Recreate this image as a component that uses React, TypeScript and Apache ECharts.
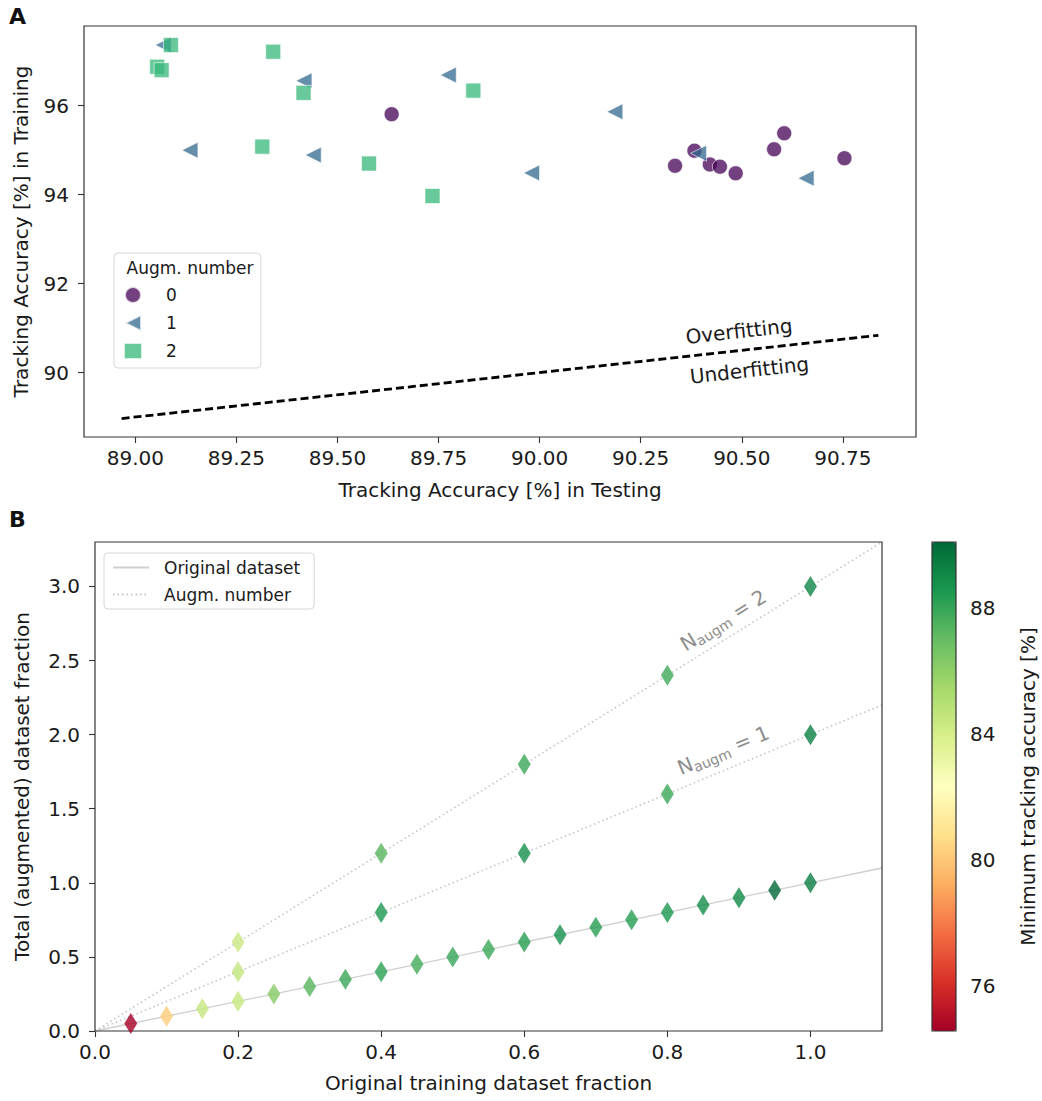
import React, { useEffect, useRef } from 'react';
import * as echarts from 'echarts';

const FONT = 'DejaVu Sans';

// ---------- Panel A data ----------
const augm0Test = [89.634, 90.335, 90.383, 90.421, 90.446, 90.485, 90.58, 90.605, 90.754];
const augm0Train = [95.81, 94.65, 94.99, 94.68, 94.63, 94.48, 95.02, 95.38, 94.82];
const augm1Test = [89.069, 89.417, 89.774, 89.135, 89.44, 90.186, 89.98, 90.393, 90.659];
const augm1Train = [97.365, 96.56, 96.69, 95.0, 94.89, 95.865, 94.49, 94.93, 94.37];
const augm2Test = [89.088, 89.054, 89.065, 89.341, 89.416, 89.836, 89.314, 89.578, 89.735];
const augm2Train = [97.365, 96.877, 96.8, 97.215, 96.29, 96.34, 95.08, 94.7, 93.97];
const diagLine = [88.966, 90.838];
const aXRange = [88.873, 90.931];
const aYRange = [88.551, 97.793];
const aXTicks = [89, 89.25, 89.5, 89.75, 90, 90.25, 90.5, 90.75];
const aYTicks = [90, 92, 94, 96];
const augmColors = ['#440154', '#31688e', '#35b779'];

// ---------- Panel B data ----------
const origFraction = [0.05, 0.1, 0.15, 0.2, 0.25, 0.3, 0.35, 0.4, 0.45, 0.5, 0.55, 0.6, 0.65, 0.7, 0.75, 0.8, 0.85, 0.9, 0.95, 1.0];
const origTotal = [0.05, 0.1, 0.15, 0.2, 0.25, 0.3, 0.35, 0.4, 0.45, 0.5, 0.55, 0.6, 0.65, 0.7, 0.75, 0.8, 0.85, 0.9, 0.95, 1.0];
const origAccuracy = [74.58, 80.2, 84.5, 84.4, 86.2, 87.3, 87.9, 88.2, 87.7, 88.0, 87.9, 88.3, 88.8, 88.3, 88.3, 88.6, 88.9, 89.0, 90.08, 89.4];
const augFraction = [0.2, 0.4, 0.6, 0.8, 1.0];
const aug1Total = [0.4, 0.8, 1.2, 1.6, 2.0];
const aug1Accuracy = [84.6, 88.5, 88.8, 87.9, 89.3];
const aug2Total = [0.6, 1.2, 1.8, 2.4, 3.0];
const aug2Accuracy = [84.3, 87.3, 87.9, 87.8, 89.1];
const origLine = [[0, 0], [1.1, 1.1]];
const aug1Line = [[0, 0], [1.1, 2.2]];
const aug2Line = [[0, 0], [1.1, 3.3]];
const bXRange = [0, 1.1];
const bYRange = [0, 3.3];
const bXTicks = [0, 0.2, 0.4, 0.6, 0.8, 1.0];
const bYTicks = [0, 0.5, 1.0, 1.5, 2.0, 2.5, 3.0];
const cbRange = [74.58, 90.08];
const cbTicks = [76, 80, 84, 88];
const rdYlGn = ['#a50026', '#d73027', '#f46d43', '#fdae61', '#fee08b', '#ffffbf', '#d9ef8b', '#a6d96a', '#66bd63', '#1a9850', '#006837'];

// annotation anchors (data coordinates)
const overfitAt = [90.493, 90.931];
const underfitAt = [90.519, 90.054];
const n2At = [0.878, 2.772];
const n1At = [0.878, 1.895];

const LEFT_TRI = 'path://M0,5L10,0L10,10Z';
const AXIS_COLOR = '#333';

function zip(a: number[], b: number[]) {
  return a.map((v, i) => [v, b[i]]);
}
function zip3(a: number[], b: number[], c: number[]) {
  return a.map((v, i) => [v, b[i], c[i]]);
}

const axisCommon = {
  axisLine: { show: false },
  axisTick: { show: true, length: 6, lineStyle: { color: AXIS_COLOR, width: 1.1 } },
  splitLine: { show: false },
  nameTextStyle: { fontFamily: FONT, fontSize: 20, color: '#1a1a1a' },
};

function labelStyle(values: number[], digits: number, margin: number) {
  return {
    customValues: values,
    formatter: (v: number) => v.toFixed(digits),
    fontFamily: FONT,
    fontSize: 20,
    color: '#1a1a1a',
    margin,
  };
}

export default function App() {
  const ref = useRef<HTMLDivElement>(null);
  useEffect(() => {
    const chart = echarts.init(ref.current!, null, { renderer: 'svg' });
    const option: any = {
      animation: false,
      backgroundColor: '#ffffff',
      title: [
        { text: 'A', left: 9, top: 5, padding: 0, textStyle: { fontFamily: FONT, fontSize: 22, fontWeight: 'bold', color: '#111' } },
        { text: 'B', left: 9, top: 508, padding: 0, textStyle: { fontFamily: FONT, fontSize: 22, fontWeight: 'bold', color: '#111' } },
      ],
      grid: [
        { left: 84, top: 26, width: 832, height: 411, show: true, borderColor: AXIS_COLOR, borderWidth: 1.2, z: 3 },
        { left: 95, top: 542, width: 787, height: 489, show: true, borderColor: AXIS_COLOR, borderWidth: 1.2, z: 3 },
        { left: 932, top: 542, width: 24, height: 489, show: true, borderColor: AXIS_COLOR, borderWidth: 1.2, z: 10 },
      ],
      xAxis: [
        {
          ...axisCommon, type: 'value', gridIndex: 0, min: aXRange[0], max: aXRange[1],
          name: 'Tracking Accuracy [%] in Testing', nameLocation: 'middle', nameGap: 43,
          axisTick: { ...axisCommon.axisTick, customValues: aXTicks },
          axisLabel: labelStyle(aXTicks, 2, 11),
        },
        {
          ...axisCommon, type: 'value', gridIndex: 1, min: bXRange[0], max: bXRange[1],
          name: 'Original training dataset fraction', nameLocation: 'middle', nameGap: 42,
          axisTick: { ...axisCommon.axisTick, customValues: bXTicks },
          axisLabel: labelStyle(bXTicks, 1, 11),
        },
        { type: 'value', gridIndex: 2, show: false, min: 0, max: 1 },
      ],
      yAxis: [
        {
          ...axisCommon, type: 'value', gridIndex: 0, min: aYRange[0], max: aYRange[1],
          name: 'Tracking Accuracy [%] in Training', nameLocation: 'middle', nameGap: 53,
          axisTick: { ...axisCommon.axisTick, customValues: aYTicks },
          axisLabel: labelStyle(aYTicks, 0, 15),
        },
        {
          ...axisCommon, type: 'value', gridIndex: 1, min: bYRange[0], max: bYRange[1],
          name: 'Total (augmented) dataset fraction', nameLocation: 'middle', nameGap: 63,
          axisTick: { ...axisCommon.axisTick, customValues: bYTicks },
          axisLabel: labelStyle(bYTicks, 1, 15),
        },
        {
          ...axisCommon, type: 'value', gridIndex: 2, position: 'right', min: cbRange[0], max: cbRange[1],
          name: 'Minimum tracking accuracy [%]', nameLocation: 'middle', nameGap: 62, nameRotate: 90,
          axisTick: { ...axisCommon.axisTick, customValues: cbTicks },
          axisLabel: labelStyle(cbTicks, 0, 14),
        },
      ],
      visualMap: {
        type: 'continuous', min: cbRange[0], max: cbRange[1], dimension: 2, seriesIndex: 6,
        inRange: { color: rdYlGn }, left: 932, top: 542, itemWidth: 24, itemHeight: 489,
        padding: 0, calculable: false, orient: 'vertical', hoverLink: false,
      },
      legend: [
        {
          data: [
            { name: '0', icon: 'circle' },
            { name: '1', icon: LEFT_TRI },
            { name: '2', icon: 'rect' },
          ],
          orient: 'vertical', left: 114, top: 253, padding: [33, 84, 8, 9],
          itemWidth: 18, itemHeight: 16, itemGap: 10, selectedMode: false,
          textStyle: { fontFamily: FONT, fontSize: 17, color: '#1a1a1a', padding: [0, 0, 0, 19] },
          backgroundColor: 'rgba(255,255,255,0.8)', borderColor: '#d6d6d6', borderWidth: 1, borderRadius: 4,
        },
        {
          data: ['Original dataset', 'Augm. number'],
          orient: 'vertical', left: 104, top: 553, padding: [6, 14, 6, 8],
          itemWidth: 36, itemHeight: 14, itemGap: 10, selectedMode: false,
          itemStyle: { opacity: 0 },
          textStyle: { fontFamily: FONT, fontSize: 17, color: '#1a1a1a', padding: [0, 0, 0, 10] },
          backgroundColor: 'rgba(255,255,255,0.8)', borderColor: '#d6d6d6', borderWidth: 1, borderRadius: 4,
        },
      ],
      series: [
        {
          name: 'diag', type: 'line', xAxisIndex: 0, yAxisIndex: 0, symbol: 'none',
          data: [[diagLine[0], diagLine[0]], [diagLine[1], diagLine[1]]],
          lineStyle: { color: '#000', width: 2.8, type: [8, 4] }, z: 1,
        },
        {
          name: '0', type: 'scatter', xAxisIndex: 0, yAxisIndex: 0, symbol: 'circle', symbolSize: 15,
          data: zip(augm0Test, augm0Train),
          itemStyle: { color: augmColors[0], opacity: 0.75, borderColor: '#fff', borderWidth: 0.8 },
        },
        {
          name: '1', type: 'scatter', xAxisIndex: 0, yAxisIndex: 0, symbol: LEFT_TRI, symbolSize: [16, 16],
          data: zip(augm1Test, augm1Train),
          itemStyle: { color: augmColors[1], opacity: 0.75, borderColor: '#fff', borderWidth: 0.8 },
        },
        {
          name: '2', type: 'scatter', xAxisIndex: 0, yAxisIndex: 0, symbol: 'rect', symbolSize: 15,
          data: zip(augm2Test, augm2Train),
          itemStyle: { color: augmColors[2], opacity: 0.75, borderColor: '#fff', borderWidth: 0.8 },
        },
        {
          name: 'Original dataset', type: 'line', xAxisIndex: 1, yAxisIndex: 1, symbol: 'none',
          data: origLine, lineStyle: { color: '#cfcfcf', width: 1.3, type: 'solid' }, z: 1,
        },
        {
          name: 'Augm. number', type: 'line', xAxisIndex: 1, yAxisIndex: 1, symbol: 'none',
          data: aug1Line, lineStyle: { color: '#c4c4c4', width: 1.6, type: [1.5, 3] }, z: 1,
        },
        {
          name: 'diamonds', type: 'scatter', xAxisIndex: 1, yAxisIndex: 1, symbol: 'diamond', symbolSize: [13, 21],
          data: [
            ...zip3(origFraction, origTotal, origAccuracy),
            ...zip3(augFraction, aug1Total, aug1Accuracy),
            ...zip3(augFraction, aug2Total, aug2Accuracy),
          ],
          z: 5,
        },
        {
          name: 'Augm. number', type: 'line', xAxisIndex: 1, yAxisIndex: 1, symbol: 'none',
          data: aug2Line, lineStyle: { color: '#c4c4c4', width: 1.6, type: [1.5, 3] }, z: 1,
        },
      ],
    };
    chart.setOption(option);

    const px = (g: number, pt: number[]) => chart.convertToPixel({ gridIndex: g }, pt) as number[];
    const angleOf = (g: number, line: number[][]) => {
      const a = px(g, line[0]);
      const b = px(g, line[1]);
      return Math.atan2(a[1] - b[1], b[0] - a[0]);
    };
    const diagAngle = angleOf(0, [[diagLine[0], diagLine[0]], [diagLine[1], diagLine[1]]]);
    const a1 = angleOf(1, aug1Line);
    const a2 = angleOf(1, aug2Line);
    const ov = px(0, overfitAt);
    const un = px(0, underfitAt);
    const p2 = px(1, n2At);
    const p1 = px(1, n1At);
    const nRich = {
      n: { fontFamily: FONT, fontSize: 20, fill: '#8c8c8c' },
      s: { fontFamily: FONT, fontSize: 14, fill: '#8c8c8c', verticalAlign: 'bottom', padding: [10, 0, 0, 0] },
    };
    chart.setOption({
      graphic: [
        {
          type: 'text', x: 126.6, y: 268, style: { text: 'Augm. number', fontFamily: FONT, fontSize: 17, fill: '#1a1a1a', align: 'left', verticalAlign: 'middle' }, z: 100,
        },
        {
          type: 'text', x: ov[0], y: ov[1], rotation: diagAngle,
          style: { text: 'Overfitting', fontFamily: FONT, fontSize: 20, fill: '#1a1a1a', align: 'center', verticalAlign: 'middle' },
        },
        {
          type: 'text', x: un[0], y: un[1], rotation: diagAngle,
          style: { text: 'Underfitting', fontFamily: FONT, fontSize: 20, fill: '#1a1a1a', align: 'center', verticalAlign: 'middle' },
        },
        {
          type: 'text', x: p2[0], y: p2[1], rotation: a2,
          style: { text: '{n|N}{s|augm}{n| = 2}', rich: nRich, align: 'center', verticalAlign: 'middle' },
        },
        {
          type: 'text', x: p1[0], y: p1[1], rotation: a1,
          style: { text: '{n|N}{s|augm}{n| = 1}', rich: nRich, align: 'center', verticalAlign: 'middle' },
        },
      ],
    });
    return () => chart.dispose();
  }, []);
  return <div ref={ref} style={{ position: 'absolute', left: 0, top: 0, width: 1042, height: 1101 }} />;
}
